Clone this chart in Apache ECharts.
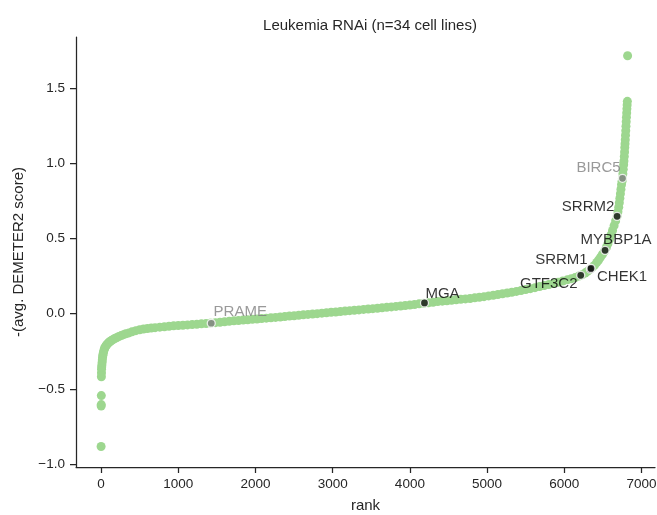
<!DOCTYPE html>
<html>
<head>
<meta charset="utf-8">
<script src="https://cdn.jsdelivr.net/npm/echarts@6/dist/echarts.min.js"></script>
<style>html,body{margin:0;padding:0;background:#fff}#c{width:657px;height:515px}</style>
</head>
<body>
<div id="c"></div>
<script>
// ranks and -(avg. DEMETER2 score)
const ranks = [0,1,2,3,4,5,6,8,10,13,16,19,23,27,32,38,45,52,60,68,78,90,103,117,
135,155,175,200,230,260,290,320,360,400,450,500,550,600,650,700,760,820,880,940,1000,1060,1120,1180,1240,
1300,1360,1420,1480,1540,1600,1660,1720,1780,1840,1900,1960,2020,2080,2140,2200,2260,2320,2380,2440,2500,
2560,2620,2680,2740,2800,2860,2920,2980,3040,3100,3160,3220,3280,3340,3400,3460,3520,3580,3640,3700,3760,
3820,3880,3940,4000,4060,4120,4180,4240,4300,4360,4420,4480,4540,4600,4660,4720,4780,4840,4900,4960,5020,
5080,5140,5200,5260,5320,5380,5440,5500,5560,5620,5680,5740,5800,5860,5920,5980,6040,6090,6140,6190,6230,
6270,6300,6330,6360,6390,6420,6445,6470,6495,6520,6545,6565,6585,6605,6625,6645,6665,6685,6695,6705,6713,
6720,6727,6734,6741,6748,6754,6759,6764,6769,6773,6777,6781,6784,6787,6790,6793,6796,6799,6802,6805,6808,
6811,6814,6817,6820];
const scores = [-0.884,-0.615,-0.605,-0.545,-0.420,-0.395,-0.370,-0.355,-0.342,-0.325,-0.308,-0.292,-0.278,-0.266,-0.254,-0.242,-0.232,-0.224,-0.216,-0.210,-0.204,-0.197,-0.191,-0.185,
-0.179,-0.172,-0.166,-0.160,-0.152,-0.146,-0.140,-0.134,-0.128,-0.121,-0.113,-0.107,-0.102,-0.099,-0.096,-0.093,-0.090,-0.087,-0.084,-0.081,-0.079,-0.077,-0.075,-0.073,-0.071,
-0.068,-0.066,-0.063,-0.060,-0.057,-0.054,-0.051,-0.048,-0.046,-0.043,-0.041,-0.038,-0.036,-0.033,-0.030,-0.027,-0.025,-0.022,-0.019,-0.016,-0.014,
-0.011,-0.008,-0.005,-0.002,0.000,0.003,0.006,0.009,0.011,0.014,0.017,0.020,0.022,0.025,0.028,0.031,0.033,0.036,0.039,0.042,0.045,
0.048,0.051,0.054,0.057,0.061,0.065,0.069,0.072,0.076,0.080,0.083,0.086,0.089,0.092,0.095,0.098,0.101,0.105,0.109,0.113,0.118,
0.122,0.127,0.132,0.137,0.142,0.148,0.154,0.160,0.166,0.173,0.180,0.187,0.194,0.201,0.209,0.217,0.225,0.232,0.240,0.250,0.259,
0.270,0.281,0.293,0.306,0.321,0.340,0.357,0.376,0.395,0.415,0.440,0.465,0.493,0.523,0.553,0.585,0.617,0.649,0.678,0.708,0.738,
0.768,0.798,0.828,0.858,0.880,0.900,0.930,0.960,0.990,1.015,1.045,1.075,1.105,1.130,1.157,1.187,1.217,1.247,1.277,1.307,1.335,
1.362,1.388,1.412,1.715];

const geneNames  = ['PRAME','MGA','GTF3C2','SRRM1','CHEK1','MYBBP1A','SRRM2','BIRC5'];
const geneRanks  = [1427, 4189, 6213, 6338, 6346, 6528, 6684, 6754];
const geneScores = [-0.064, 0.071, 0.255, 0.296, 0.301, 0.421, 0.647, 0.900];

const xTicks = [0,1000,2000,3000,4000,5000,6000,7000];
const yTicks = [-1.0,-0.5,0.0,0.5,1.0,1.5];

const titleText = 'Leukemia RNAi (n=34 cell lines)';
const xName = 'rank';
const yName = '-(avg. DEMETER2 score)';

// styling / layout (kept separate from data)
const grayGenes = {PRAME:true, BIRC5:true};
const labelOffsets = {
  PRAME:[29,-11], MGA:[18,-9], GTF3C2:[-32,9], SRRM1:[-29,-9],
  CHEK1:[31,8], MYBBP1A:[11,-10], SRRM2:[-29,-10], BIRC5:[-24,-10]
};
const FONT = '"Liberation Sans", Arial, sans-serif';
const INK = '#262626';

const bgData = ranks.map((r,i)=>[r, scores[i]]);
const hlData = geneNames.map((n,i)=>{
  const gray = !!grayGenes[n];
  return {
    name:n,
    value:[geneRanks[i], geneScores[i]],
    itemStyle:{color: gray ? '#808080' : '#111111'},
    label:{
      show:true, formatter:n, position:'inside', offset:labelOffsets[n],
      color: gray ? '#808080' : '#000000', fontSize:15, fontFamily:FONT
    }
  };
});

const chart = echarts.init(document.getElementById('c'), null, {renderer:'canvas'});
const fmtY = v => (v < 0 ? '\u2212' : '') + Math.abs(v).toFixed(1);
const fmtX = v => String(Math.round(v));
chart.setOption({
  animation:false,
  backgroundColor:'#ffffff',
  title:{
    text:titleText, left:365, top:13, textAlign:'center',
    textStyle:{fontFamily:FONT, fontSize:15, fontWeight:'normal', color:INK}
  },
  grid:{left:76, top:37, width:579, height:430, containLabel:false, outerBoundsMode:'none'},
  xAxis:{
    type:'value', min:-325, max:7175,
    name:xName, nameLocation:'middle', nameGap:31,
    nameTextStyle:{fontFamily:FONT, fontSize:15, color:INK},
    axisLine:{show:true, onZero:false, lineStyle:{color:INK, width:1.25}},
    axisTick:{show:true, length:6, lineStyle:{color:INK, width:1.25}, customValues:xTicks},
    axisLabel:{fontFamily:FONT, fontSize:13.5, color:INK, margin:10, formatter:fmtX, customValues:xTicks},
    splitLine:{show:false}
  },
  yAxis:{
    type:'value', min:-1.02, max:1.84,
    name:yName, nameLocation:'middle', nameGap:50, nameRotate:90,
    nameTextStyle:{fontFamily:FONT, fontSize:15, color:INK},
    axisLine:{show:true, onZero:false, lineStyle:{color:INK, width:1.25}},
    axisTick:{show:true, length:6, lineStyle:{color:INK, width:1.25}, customValues:yTicks},
    axisLabel:{fontFamily:FONT, fontSize:13.5, color:INK, margin:11, formatter:fmtY, customValues:yTicks},
    splitLine:{show:false}
  },
  series:[
    {type:'scatter', data:bgData, symbolSize:9, itemStyle:{color:'#9dd78f', opacity:1}, silent:true, z:2},
    {type:'scatter', data:hlData, symbolSize:8, itemStyle:{borderColor:'#ffffff', borderWidth:1.3}, z:5}
  ]
});
</script>
</body>
</html>
